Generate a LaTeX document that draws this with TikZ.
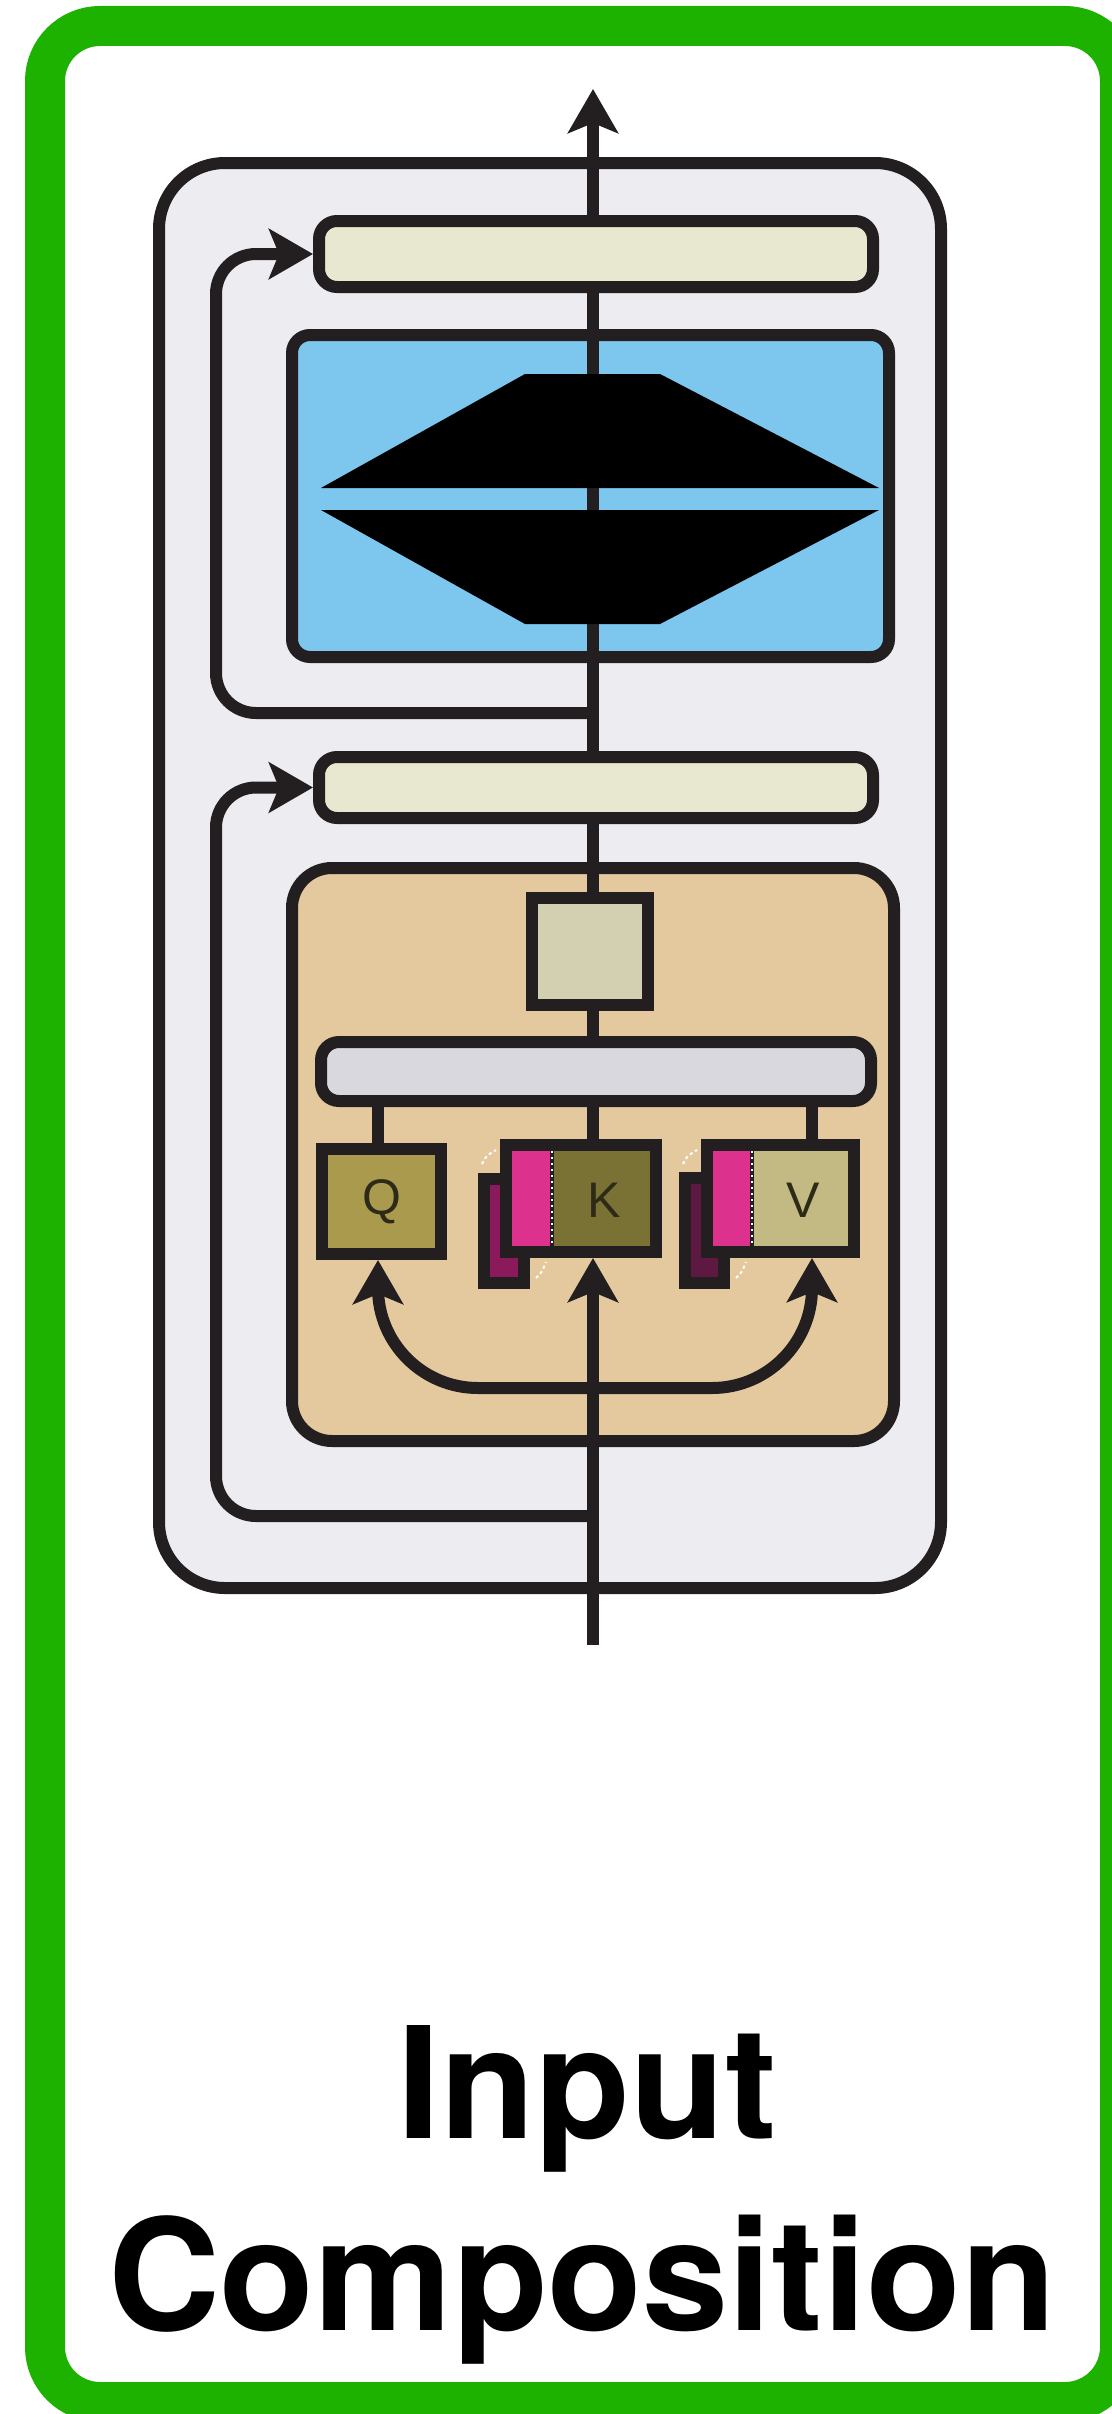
\documentclass[tikz,border=0pt]{standalone}
\usepackage{fontspec}
\newfontfamily\headfont{TeX Gyre Heros}
\newfontfamily\lblfont{Liberation Sans}
\usetikzlibrary{arrows.meta}
\definecolor{framegreen}{HTML}{1DB100}
\definecolor{ink}{HTML}{231F20}
\definecolor{graybg}{HTML}{ECECF1}
\definecolor{cream}{HTML}{E7E8CF}
\definecolor{skyb}{HTML}{7DC6EE}
\definecolor{orangebg}{HTML}{E3C99D}
\definecolor{sqc}{HTML}{D3CFB1}
\definecolor{gbarc}{HTML}{D8D8DE}
\definecolor{qc}{HTML}{A99A4E}
\definecolor{kc}{HTML}{7A7134}
\definecolor{vc}{HTML}{C2B983}
\definecolor{pinkc}{HTML}{DD318E}
\definecolor{kback}{HTML}{8A1A5C}
\definecolor{vback}{HTML}{5E1942}
\definecolor{lblc}{HTML}{2E2A18}
\begin{document}
\begin{tikzpicture}[x=0.5pt,y=-0.5pt,
  ln/.style={draw=ink, line width=6pt},
  tip/.style={-{Stealth[length=22pt,width=25pt,inset=5pt]}},
  tipb/.style={{Stealth[length=22pt,width=25pt,inset=5pt]}-{Stealth[length=22pt,width=25pt,inset=5pt]}},
  bx/.style={draw=ink, line width=6pt, inner sep=0pt, rectangle},
  curl/.style={draw=white, line width=1pt, dash pattern=on 1.5pt off 1.5pt},
  lbl/.style={font=\lblfont\fontsize{25pt}{25pt}\selectfont, text=lblc, inner sep=0pt},
  ttl/.style={font=\headfont\bfseries\fontsize{77.5pt}{80pt}\selectfont, inner sep=0pt, anchor=base}]
\useasboundingbox (0,0) rectangle (1112,2414);
% frame
\draw[draw=framegreen, line width=20pt, rounded corners=27.5pt] (45,26) rectangle (1120,2402);
% outer block
\node[bx, fill=graybg, rounded corners=33pt, minimum width=391pt, minimum height=712.5pt] (outer) at (550,875.5) {};
\node[bx, fill=cream, rounded corners=9pt, minimum width=277pt, minimum height=33pt] (c1) at (596,254) {};
\node[bx, fill=skyb, rounded corners=9pt, minimum width=298.5pt, minimum height=161pt] (blue) at (590.5,496) {};
\node[bx, fill=cream, rounded corners=9pt, minimum width=277pt, minimum height=30.5pt] (c2) at (596,787.5) {};
\node[bx, fill=orangebg, rounded corners=20pt, minimum width=301pt, minimum height=286.5pt] (orange) at (593,1154.5) {};
% coordinates
\coordinate (in) at (593,1645);
\coordinate (out) at (593,89);
\coordinate (j1) at (593,713);
\coordinate (j2) at (593,1516);
\coordinate (rx) at (216,0);
\coordinate (qx) at (378,0);
\coordinate (vx) at (812,0);
\coordinate (bot) at (0,1388);
% residual connections
\draw[ln, tip, rounded corners=20pt] (j1) -- (rx |- j1) -- (rx |- c1.west) -- (c1.west);
\draw[ln, tip, rounded corners=20pt] (j2) -- (rx |- j2) -- (rx |- c2.west) -- (c2.west);
% main line through the blocks
\draw[ln] (c2.north -| in) -- (c1.south -| in);
\draw[ln, tip] (c1.north -| in) -- (out);
\draw[ln] (j1) -- (c2.north -| in);
\draw[ln] (j2) -- (orange.south -| in);
% feed-forward trapezoids
\fill[black] (525,374) -- (660,374) -- (879,488) -- (321,488) -- cycle;
\fill[black] (321,510) -- (879,510) -- (660,624) -- (525,624) -- cycle;
% attention internals
\node[bx, fill=sqc, minimum width=58pt, minimum height=53.5pt] (sq) at (590,951.5) {};
\node[bx, fill=gbarc, rounded corners=9pt, minimum width=275pt, minimum height=29.5pt] (gbar) at (596,1071.5) {};
\node[bx, fill=qc, minimum width=59.5pt, minimum height=52.5pt] (Q) at (381.5,1201.5) {};
\node[bx, fill=kback, minimum width=20pt, minimum height=52pt] (kb) at (504,1231) {};
\node[bx, fill=kc, minimum width=75pt, minimum height=53.5pt] (K) at (581,1198.5) {};
\node[bx, fill=vback, minimum width=19.5pt, minimum height=52.5pt] (vb) at (704.5,1230.5) {};
\node[bx, fill=vc, minimum width=73.5pt, minimum height=53.5pt] (V) at (780.5,1198.5) {};
\fill[pinkc] (512,1151) rectangle (550,1246);
\fill[pinkc] (713,1151) rectangle (750,1246);
\draw[ink, line width=2pt] (552,1151) -- (552,1246);
\draw[white, line width=1pt, dash pattern=on 1pt off 2pt] (552,1151) -- (552,1246);
\draw[ink, line width=2pt] (752,1151) -- (752,1246);
\draw[white, line width=1pt, dash pattern=on 1pt off 2pt] (752,1151) -- (752,1246);
% page-corner curls of the stacked boxes
\draw[curl] (482,1164) .. controls (486,1156) .. (496,1150);
\draw[curl] (536,1278) .. controls (542,1272) .. (546,1262);
\draw[curl] (683,1164) .. controls (687,1156) .. (697,1150);
\draw[curl] (736,1278) .. controls (742,1272) .. (746,1262);
\node[lbl] (qt) at (Q) {Q};
\node[lbl] (kt) at (604,1200) {K};
\node[lbl] (vt) at (803,1200) {V};
\draw[ln] (gbar.south -| qx) -- (Q.north -| qx);
\draw[ln] (gbar.south -| in) -- (K.north -| in);
\draw[ln] (gbar.south -| vx) -- (V.north -| vx);
\draw[ln] (gbar.north -| in) -- (sq.south -| in);
\draw[ln] (sq.north -| in) -- (c2.south -| in);
\draw[ln, tip] (in) -- (K.south -| in);
\draw[ln, tipb, rounded corners=50pt] (Q.south -| qx) -- (qx |- bot) -- (vx |- bot) -- (V.south -| vx);
% title
\node[ttl] (t1) at (587,2138) {Input};
\node[ttl] (t2) at (582,2330) {Composition};
\end{tikzpicture}
\end{document}
